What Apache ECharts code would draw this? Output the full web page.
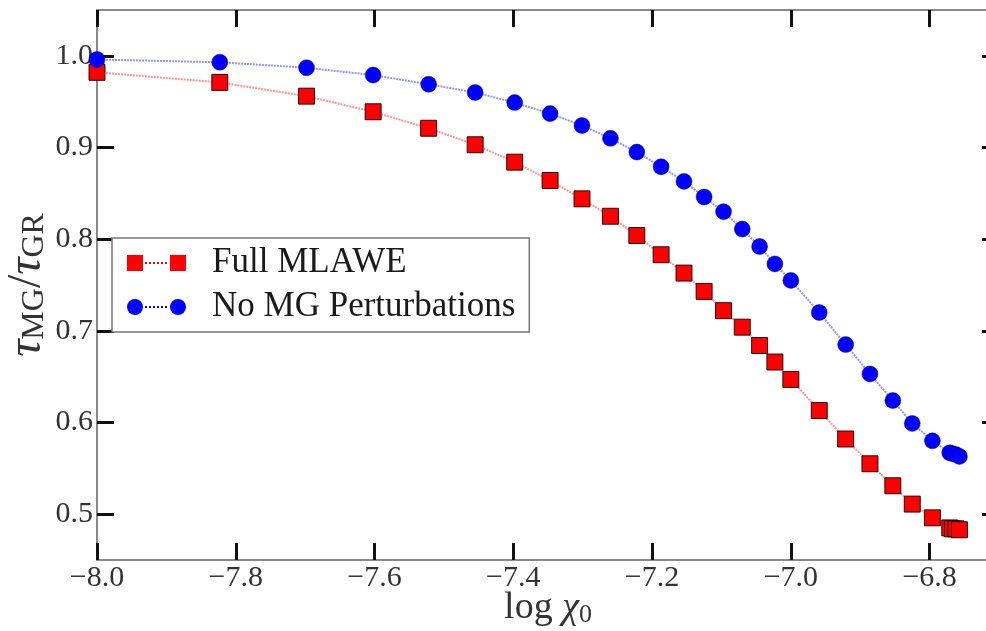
<!DOCTYPE html>
<html>
<head>
<meta charset="utf-8">
<title>τMG/τGR vs log χ0</title>
<script src="https://cdn.jsdelivr.net/npm/echarts@6/dist/echarts.min.js"></script>
<style>
  html, body { margin: 0; padding: 0; background: #fff; }
  #chart { width: 986px; height: 631px; }
</style>
</head>
<body>
<div id="chart"></div>
<script>
// log chi_0 sample positions
const logChi0 = [-8.000, -7.823, -7.698, -7.602, -7.522, -7.455, -7.398, -7.347, -7.301, -7.260,
                 -7.222, -7.187, -7.154, -7.125, -7.097, -7.070, -7.045, -7.023, -7.000, -6.959,
                 -6.921, -6.886, -6.853, -6.825, -6.796, -6.771, -6.767, -6.762, -6.757];

// tau_MG / tau_GR for the full MLAWE
const fullMlawe = [0.982, 0.971, 0.956, 0.939, 0.921, 0.903, 0.884, 0.864, 0.844, 0.825,
                   0.804, 0.783, 0.763, 0.743, 0.722, 0.704, 0.684, 0.666, 0.647, 0.613,
                   0.582, 0.555, 0.531, 0.511, 0.496, 0.485, 0.484, 0.484, 0.483];

// tau_MG / tau_GR without MG perturbations
const noMgPert = [0.996, 0.993, 0.987, 0.979, 0.969, 0.960, 0.949, 0.937, 0.924, 0.910,
                  0.895, 0.879, 0.863, 0.846, 0.830, 0.811, 0.792, 0.773, 0.755, 0.720,
                  0.685, 0.653, 0.624, 0.599, 0.580, 0.567, 0.566, 0.565, 0.563];

const seriesNames = ['Full MLAWE', 'No MG Perturbations'];
const xTicks = [-8.0, -7.8, -7.6, -7.4, -7.2, -7.0, -6.8];
const yTicks = [0.5, 0.6, 0.7, 0.8, 0.9, 1.0];

const FONT = 'Liberation Serif';
const minus = v => (v < 0 ? '\u2212' + Math.abs(v).toFixed(1) : v.toFixed(1));

const pair = (xs, ys) => xs.map((x, i) => [x, ys[i]]);

const tickStyle = { show: true, inside: true, length: 17, lineStyle: { color: '#111', width: 3 } };
const spine = { show: true, lineStyle: { color: '#8a8a8a', width: 2 } };

// legend glyphs: marker – dotted link – marker
const squareIcon = 'path://M0,0h16v16h-16Z M43,0h16v16h-16Z' +
  ' M18,7h2v2h-2Z M22,7h2v2h-2Z M26,7h2v2h-2Z M30,7h2v2h-2Z M34,7h2v2h-2Z M38,7h2v2h-2Z';
const circleIcon = 'path://M0,8a8,8 0 1,0 16,0a8,8 0 1,0 -16,0Z M43,8a8,8 0 1,0 16,0a8,8 0 1,0 -16,0Z' +
  ' M18,7h2v2h-2Z M22,7h2v2h-2Z M26,7h2v2h-2Z M30,7h2v2h-2Z M34,7h2v2h-2Z M38,7h2v2h-2Z';

const chart = echarts.init(document.getElementById('chart'), null, { renderer: 'canvas' });

chart.setOption({
  animation: false,
  backgroundColor: '#fff',
  textStyle: { fontFamily: FONT },
  grid: { left: 97, right: -13, top: 10, bottom: 71, containLabel: false, outerBoundsMode: 'none' },
  legend: {
    orient: 'vertical',
    left: 112,
    top: 238,
    backgroundColor: '#fff',
    borderColor: '#777',
    borderWidth: 1.5,
    borderRadius: 0,
    padding: [7, 14, 7, 15],
    itemWidth: 59,
    itemHeight: 16,
    itemGap: 8,
    textStyle: { fontFamily: FONT, fontSize: 35, color: '#1a1a1a', lineHeight: 36, padding: [0, 0, 0, 21] },
    data: [
      { name: seriesNames[0], icon: squareIcon, itemStyle: { color: '#ff0000', borderWidth: 0 } },
      { name: seriesNames[1], icon: circleIcon, itemStyle: { color: '#0000ff', borderWidth: 0 } }
    ]
  },
  xAxis: [
    {
      type: 'value', position: 'bottom', min: -8.0, max: -6.7,
      axisLine: spine, splitLine: { show: false },
      axisTick: Object.assign({ customValues: xTicks }, tickStyle),
      axisLabel: { customValues: xTicks, formatter: minus, fontFamily: FONT, fontSize: 30, color: '#333', margin: 3 },
      name: '{n|log }{i|χ}{s|0}',
      nameLocation: 'middle',
      nameGap: 28,
      nameMoveOverlap: false,
      nameTextStyle: {
        rich: {
          n: { fontFamily: FONT, fontSize: 38, color: '#333', lineHeight: 40 },
          i: { fontFamily: FONT, fontSize: 38, fontStyle: 'italic', color: '#333', lineHeight: 40 },
          s: { fontFamily: FONT, fontSize: 26, color: '#333', lineHeight: 20, verticalAlign: 'bottom' }
        }
      }
    },
    {
      type: 'value', position: 'top', min: -8.0, max: -6.7,
      axisLine: spine, splitLine: { show: false },
      axisTick: Object.assign({ customValues: xTicks }, tickStyle),
      axisLabel: { show: false }
    }
  ],
  yAxis: [
    {
      type: 'value', position: 'left', min: 0.45, max: 1.05,
      axisLine: spine, splitLine: { show: false },
      axisTick: Object.assign({ customValues: yTicks }, tickStyle),
      axisLabel: { customValues: yTicks, formatter: v => v.toFixed(1), fontFamily: FONT, fontSize: 30, color: '#333', margin: 4 },
      name: '{i|τ}{s|MG}{n|/}{i|τ}{s|GR}',
      nameLocation: 'middle',
      nameGap: 46,
      nameMoveOverlap: false,
      nameTextStyle: {
        rich: {
          n: { fontFamily: FONT, fontSize: 48, color: '#333', lineHeight: 48 },
          i: { fontFamily: FONT, fontSize: 48, fontStyle: 'italic', color: '#333', lineHeight: 48 },
          s: { fontFamily: FONT, fontSize: 32, color: '#333', lineHeight: 24, verticalAlign: 'bottom' }
        }
      }
    },
    {
      type: 'value', position: 'right', min: 0.45, max: 1.05,
      axisLine: spine, splitLine: { show: false },
      axisTick: Object.assign({ customValues: yTicks }, tickStyle),
      axisLabel: { show: false }
    }
  ],
  series: [
    {
      name: seriesNames[0],
      type: 'line',
      xAxisIndex: 0, yAxisIndex: 0,
      data: pair(logChi0, fullMlawe),
      symbol: 'rect',
      symbolSize: 16,
      clip: true,
      lineStyle: { color: 'rgba(255,40,40,0.5)', width: 2, type: [2, 1] },
      itemStyle: { color: '#ff0000', borderColor: 'rgba(0,0,0,0.85)', borderWidth: 1 },
      emphasis: { disabled: true },
      z: 3
    },
    {
      name: seriesNames[1],
      type: 'line',
      xAxisIndex: 0, yAxisIndex: 0,
      data: pair(logChi0, noMgPert),
      symbol: 'circle',
      symbolSize: 16,
      clip: true,
      lineStyle: { color: 'rgba(40,40,255,0.5)', width: 2, type: [2, 1] },
      itemStyle: { color: '#0000ff', borderColor: 'rgba(0,0,60,0.5)', borderWidth: 0.8 },
      emphasis: { disabled: true },
      z: 4
    }
  ]
});
</script>
</body>
</html>
